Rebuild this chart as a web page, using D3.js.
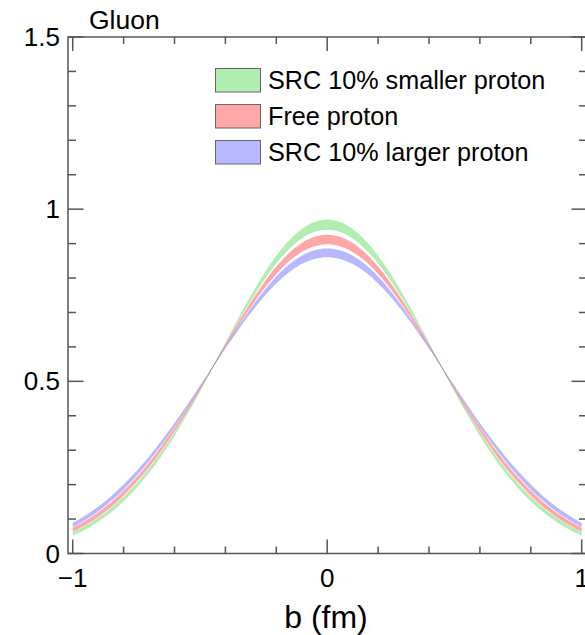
<!DOCTYPE html>
<html>
<head>
<meta charset="utf-8">
<script src="https://cdn.jsdelivr.net/npm/d3@7"></script>
<style>
  html, body { margin: 0; padding: 0; background: #fff; }
  svg { display: block; font-family: "Liberation Sans", Arial, Helvetica, sans-serif; }
</style>
</head>
<body>
<svg id="chart" width="585" height="635"></svg>
<script>
// Impact parameter grid b (fm)
const bValues = [-1.00,-0.95,-0.90,-0.85,-0.80,-0.75,-0.70,-0.65,-0.60,-0.55,-0.50,-0.45,-0.40,-0.35,-0.30,-0.25,-0.20,-0.15,-0.10,-0.05,
  0.00,0.05,0.10,0.15,0.20,0.25,0.30,0.35,0.40,0.45,0.50,0.55,0.60,0.65,0.70,0.75,0.80,0.85,0.90,0.95,1.00];

// SRC 10% smaller proton band (lower / upper edge)
const smallerLo = [0.0524,0.0700,0.0920,0.1189,0.1514,0.1897,0.2342,0.2849,0.3415,0.4034,0.4695,0.5385,0.6055,0.6713,0.7340,0.7917,0.8422,0.8837,0.9145,0.9336,
  0.9400,0.9336,0.9145,0.8837,0.8422,0.7917,0.7340,0.6713,0.6055,0.5385,0.4695,0.4034,0.3415,0.2849,0.2342,0.1897,0.1514,0.1189,0.0920,0.0700,0.0524];
const smallerHi = [0.0626,0.0812,0.1042,0.1319,0.1648,0.2035,0.2478,0.2977,0.3531,0.4130,0.4767,0.5427,0.6129,0.6825,0.7492,0.8107,0.8648,0.9093,0.9425,0.9630,
  0.9700,0.9630,0.9425,0.9093,0.8648,0.8107,0.7492,0.6825,0.6129,0.5427,0.4767,0.4130,0.3531,0.2977,0.2478,0.2035,0.1648,0.1319,0.1042,0.0812,0.0626];

// Free proton band
const freeLo = [0.0635,0.0828,0.1063,0.1345,0.1678,0.2066,0.2507,0.3001,0.3545,0.4131,0.4749,0.5388,0.6000,0.6595,0.7158,0.7672,0.8119,0.8486,0.8757,0.8923,
  0.8980,0.8923,0.8757,0.8486,0.8119,0.7672,0.7158,0.6595,0.6000,0.5388,0.4749,0.4131,0.3545,0.3001,0.2507,0.2066,0.1678,0.1345,0.1063,0.0828,0.0635];
const freeHi = [0.0747,0.0950,0.1193,0.1483,0.1820,0.2208,0.2645,0.3131,0.3661,0.4227,0.4821,0.5430,0.6072,0.6703,0.7302,0.7852,0.8333,0.8726,0.9019,0.9199,
  0.9260,0.9199,0.9019,0.8726,0.8333,0.7852,0.7302,0.6703,0.6072,0.5430,0.4821,0.4227,0.3661,0.3131,0.2645,0.2208,0.1820,0.1483,0.1193,0.0950,0.0747];

// SRC 10% larger proton band
const largerLo = [0.0762,0.0972,0.1221,0.1515,0.1855,0.2242,0.2677,0.3156,0.3675,0.4227,0.4804,0.5392,0.5950,0.6486,0.6990,0.7448,0.7844,0.8166,0.8404,0.8551,
  0.8600,0.8551,0.8404,0.8166,0.7844,0.7448,0.6990,0.6486,0.5950,0.5392,0.4804,0.4227,0.3675,0.3156,0.2677,0.2242,0.1855,0.1515,0.1221,0.0972,0.0762];
const largerHi = [0.0886,0.1104,0.1361,0.1659,0.2001,0.2388,0.2817,0.3286,0.3791,0.4323,0.4874,0.5434,0.6020,0.6590,0.7128,0.7618,0.8044,0.8392,0.8648,0.8807,
  0.8860,0.8807,0.8648,0.8392,0.8044,0.7618,0.7128,0.6590,0.6020,0.5434,0.4874,0.4323,0.3791,0.3286,0.2817,0.2388,0.2001,0.1659,0.1361,0.1104,0.0886];

const seriesNames = ["SRC 10% smaller proton", "Free proton", "SRC 10% larger proton"];
const seriesColors = ["rgba(0,200,0,0.30)", "rgba(255,0,0,0.35)", "rgba(0,0,255,0.28)"];

const xTickMajor = [-1, 0, 1];
const xTickLabels = ["\u22121", "0", "1"];
const yTickMajor = [0, 0.5, 1, 1.5];
const yTickLabels = ["0", "0.5", "1", "1.5"];

const title = "Gluon";
const xTitle = "b (fm)";

const svg = d3.select("#chart");

const frame = { left: 68, right: 587, top: 37, bottom: 553.5 };
const x = d3.scaleLinear().domain([-1, 1]).range([72.7, 581.7]);
const y = d3.scaleLinear().domain([0, 1.5]).range([553.5, 37]);

const bands = [
  { lo: smallerLo, hi: smallerHi },
  { lo: freeLo, hi: freeHi },
  { lo: largerLo, hi: largerHi }
];

const area = d3.area()
  .x((d) => x(d.b))
  .y0((d) => y(d.lo))
  .y1((d) => y(d.hi))
  .curve(d3.curveCatmullRom);

const plot = svg.append("g");
bands.forEach((band, i) => {
  const pts = bValues.map((b, j) => ({ b, lo: band.lo[j], hi: band.hi[j] }));
  plot.append("path")
    .attr("d", area(pts))
    .attr("fill", seriesColors[i])
    .attr("stroke", "none");
});

// Frame and ticks
const axisColor = "#555";
const axes = svg.append("g").attr("stroke", axisColor).attr("stroke-width", 1.5).attr("fill", "none");
axes.append("rect")
  .attr("x", frame.left).attr("y", frame.top)
  .attr("width", frame.right - frame.left).attr("height", frame.bottom - frame.top);

const xMinor = d3.range(-10, 11, 2).map((v) => v / 10).filter((v) => !xTickMajor.includes(v));
const yMinor = d3.range(0, 16).map((v) => v / 10).filter((v) => !yTickMajor.some((m) => Math.abs(m - v) < 1e-9));

function xTicks(values, len) {
  values.forEach((v) => {
    axes.append("line").attr("x1", x(v)).attr("x2", x(v)).attr("y1", frame.bottom).attr("y2", frame.bottom - len);
    axes.append("line").attr("x1", x(v)).attr("x2", x(v)).attr("y1", frame.top).attr("y2", frame.top + len);
  });
}
function yTicks(values, len) {
  values.forEach((v) => {
    axes.append("line").attr("x1", frame.left).attr("x2", frame.left + len).attr("y1", y(v)).attr("y2", y(v));
    axes.append("line").attr("x1", frame.right).attr("x2", frame.right - len).attr("y1", y(v)).attr("y2", y(v));
  });
}
xTicks(xTickMajor, 14);
xTicks(xMinor, 7);
yTicks(yTickMajor, 15.5);
yTicks(yMinor, 8);

// Tick labels
const labels = svg.append("g").attr("fill", "#000").attr("font-size", 26);
xTickMajor.forEach((v, i) => {
  labels.append("text").attr("x", x(v)).attr("y", 587).attr("text-anchor", "middle").text(xTickLabels[i]);
});
yTickMajor.forEach((v, i) => {
  labels.append("text").attr("x", 60).attr("y", y(v)).attr("dy", "0.35em").attr("text-anchor", "end").text(yTickLabels[i]);
});

// Titles
svg.append("text").attr("x", 89).attr("y", 29).attr("font-size", 26.5).text(title);
svg.append("text").attr("x", 326).attr("y", 628).attr("text-anchor", "middle").attr("font-size", 32).text(xTitle);

// Legend
const legend = svg.append("g");
seriesNames.forEach((name, i) => {
  const top = 68.5 + i * 36;
  legend.append("rect")
    .attr("x", 215.5).attr("y", top).attr("width", 45).attr("height", 23.5)
    .attr("fill", seriesColors[i]).attr("stroke", "#666").attr("stroke-width", 1);
  legend.append("text")
    .attr("x", 268).attr("y", top + 20).attr("font-size", 25.2).text(name);
});
</script>
</body>
</html>
